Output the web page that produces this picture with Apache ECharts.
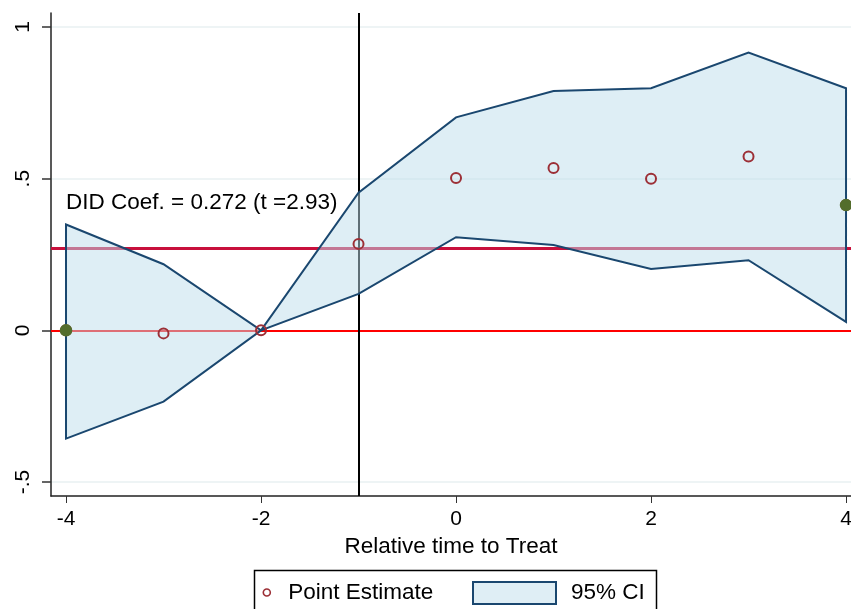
<!DOCTYPE html>
<html><head><meta charset="utf-8">
<script src="https://cdn.jsdelivr.net/npm/echarts@6/dist/echarts.min.js"></script>
<style>html,body{margin:0;padding:0;background:#fff}#c{width:851px;height:609px}</style>
</head><body><div id="c"></div>
<script>
const relTime = [-4, -3, -2, -1, 0, 1, 2, 3, 4];
const pointEst = [0, -0.010, 0, 0.285, 0.502, 0.535, 0.500, 0.573, 0.413];
const ciLower = [-0.357, -0.235, 0, 0.120, 0.307, 0.281, 0.202, 0.231, 0.028];
const ciUpper = [0.349, 0.218, 0, 0.454, 0.702, 0.789, 0.798, 0.916, 0.798];
const endX = [-4, 4];
const endY = [0, 0.413];
const didCoef = 0.272;
const didT = 2.93;
const treatTime = -1;
const xTicks = [-4, -2, 0, 2, 4];
const yTicks = [-0.5, 0, 0.5, 1];
const yTickLabels = ['-.5', '0', '.5', '1'];
const didLabelPos = [-4, 0.42];

const FONT = 'Liberation Sans, Arial, sans-serif';
const chart = echarts.init(document.getElementById('c'), null, {renderer: 'canvas'});

chart.setOption({
  animation: false,
  backgroundColor: '#ffffff',
  textStyle: {fontFamily: FONT},
  grid: {left: 51, right: 0, top: 13, bottom: 113, containLabel: false, outerBoundsMode: 'none'},
  xAxis: {
    type: 'value', min: -4.154, max: 4.051,
    name: 'Relative time to Treat', nameLocation: 'middle', nameGap: 39,
    nameTextStyle: {fontSize: 22.5, color: '#000', fontFamily: FONT},
    axisLine: {show: true, onZero: false, lineStyle: {color: '#222', width: 1.5}},
    axisTick: {show: true, length: 7, customValues: xTicks, lineStyle: {color: '#333', width: 1}},
    axisLabel: {customValues: xTicks, fontSize: 21, color: '#000', margin: 13, fontFamily: FONT,
      formatter: v => String(v)},
    splitLine: {show: false}
  },
  yAxis: {
    type: 'value', min: -0.546, max: 1.046,
    axisLine: {show: true, onZero: false, lineStyle: {color: '#222', width: 1.5}},
    axisTick: {show: true, length: 9, customValues: yTicks, lineStyle: {color: '#333', width: 1.5}},
    axisLabel: {customValues: yTicks, rotate: 90, fontSize: 21, color: '#000', margin: 17, fontFamily: FONT,
      formatter: v => { const i = yTicks.findIndex(t => Math.abs(t - v) < 1e-9); return i >= 0 ? yTickLabels[i] : ''; }},
    splitLine: {show: true, lineStyle: {color: '#e9f1f2', width: 1.5}}
  },
  legend: [
    {
      left: 262.5, top: 581, padding: 0, itemWidth: 7, itemHeight: 7,
      selectedMode: false,
      textStyle: {fontSize: 22.5, color: '#000', fontFamily: FONT, padding: [0, 0, 0, 13]},
      data: [{name: 'Point Estimate', icon: 'circle',
        itemStyle: {color: 'rgba(0,0,0,0)', borderColor: '#9c2f36', borderWidth: 1.6, opacity: 1}}]
    },
    {
      left: 472, top: 581, padding: 0, itemWidth: 83, itemHeight: 22,
      selectedMode: false,
      textStyle: {fontSize: 22.5, color: '#000', fontFamily: FONT, padding: [0, 0, 0, 10]},
      data: [{name: '95% CI', icon: 'rect',
        itemStyle: {color: '#dfeef5', borderColor: '#1a476f', borderWidth: 2}}]
    }
  ],
  graphic: [{
    type: 'rect', silent: true, z: 100,
    shape: {x: 254.5, y: 570.5, width: 402, height: 60},
    style: {fill: 'none', stroke: '#000', lineWidth: 1.5}
  }],
  series: [
    {
      type: 'line', name: 'refs', data: [], z: 1, silent: true,
      markLine: {
        z: 1, silent: true, symbol: 'none', label: {show: false}, animation: false,
        data: [
          {yAxis: 0, lineStyle: {color: '#ff0000', width: 2, type: 'solid'}},
          {yAxis: didCoef, lineStyle: {color: '#c8103c', width: 3, type: 'solid'}},
          {xAxis: treatTime, lineStyle: {color: '#000000', width: 2, type: 'solid'}}
        ]
      }
    },
    {
      type: 'custom', name: '95% CI', z: 3, silent: true,
      data: relTime.map((x, i) => [x, ciLower[i], ciUpper[i]]),
      encode: {x: 0, y: [1, 2]},
      renderItem: (params, api) => {
        if (params.dataIndex !== 0) return null;
        const pts = [];
        for (let i = 0; i < relTime.length; i++) pts.push(api.coord([relTime[i], ciUpper[i]]));
        for (let i = relTime.length - 1; i >= 0; i--) pts.push(api.coord([relTime[i], ciLower[i]]));
        return {type: 'polygon', shape: {points: pts},
          style: {fill: 'rgba(190,222,235,0.5)', stroke: '#1a476f', lineWidth: 2, lineJoin: 'miter'}};
      }
    },
    {
      type: 'scatter', name: 'Point Estimate', z: 5, silent: true,
      data: relTime.map((x, i) => [x, pointEst[i]]),
      symbol: 'circle', symbolSize: 10,
      itemStyle: {color: 'rgba(0,0,0,0)', borderColor: '#9c2f36', borderWidth: 2, opacity: 1}
    },
    {
      type: 'scatter', name: 'ends', z: 6, silent: true,
      data: endX.map((x, i) => [x, endY[i]]),
      symbol: 'circle', symbolSize: 12.5,
      itemStyle: {color: '#536d2c', opacity: 1}
    },
    {
      type: 'scatter', name: 'didText', z: 7, silent: true,
      data: [didLabelPos], symbolSize: 0,
      itemStyle: {opacity: 1},
      label: {show: true, position: 'right', distance: 0, fontSize: 22.5, color: '#000', opacity: 1, fontFamily: FONT,
        formatter: () => 'DID Coef. = ' + didCoef.toFixed(3) + ' (t =' + didT.toFixed(2) + ')'}
    }
  ]
});
</script>
</body></html>
